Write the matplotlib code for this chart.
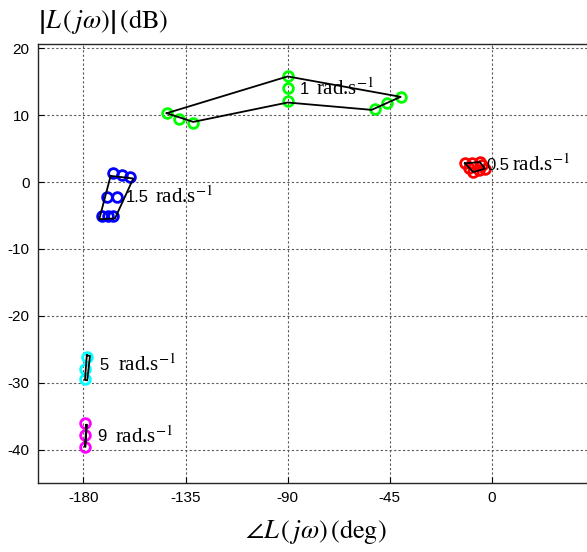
import numpy as np
import matplotlib
matplotlib.use("Agg")
import matplotlib.pyplot as plt

plt.rcParams['mathtext.fontset'] = 'stix'
plt.rcParams['axes.unicode_minus'] = False

# templates at each frequency: sample points (phase deg, gain dB) and outline
w1_phase = [-143.2, -137.9, -131.7, -90, -90, -90, -51.5, -46.4, -40.2]
w1_mag = [10.3, 9.5, 8.8, 15.8, 14.0, 12.2, 11.0, 11.8, 12.7]
w1_box_phase = [-143.3, -90, -40.2, -53.0, -90, -131.6, -143.3]
w1_box_mag = [10.3, 15.8, 12.75, 10.8, 11.9, 9.0, 10.3]

w05_phase = [-11.9, -8.6, -5.3, -4.2, -3.1, -5.6, -8.2, -10.0]
w05_mag = [2.8, 2.9, 3.0, 2.5, 2.0, 1.75, 1.5, 2.1]
w05_box_phase = [-11.9, -5.3, -3.1, -8.2, -11.9]
w05_box_mag = [2.8, 3.0, 2.0, 1.5, 2.8]

w15_phase = [-166.8, -163.2, -159.5, -169.7, -165.2, -171.9, -169.0, -166.8]
w15_mag = [1.3, 1.1, 0.8, -2.2, -2.3, -5.0, -5.1, -5.1]
w15_box_phase = [-168.0, -158.0, -166.1, -173.0, -168.0]
w15_box_mag = [0.93, 0.54, -5.45, -5.55, 0.93]

w5_phase = [-178.5, -179.2, -179.3]
w5_mag = [-26.2, -27.9, -29.5]
w5_box_phase = [-178.5, -177.1, -178.3, -179.3, -178.5]
w5_box_mag = [-25.9, -26.0, -29.65, -29.6, -25.9]

w9_phase = [-179.2, -179.2, -179.3]
w9_mag = [-36.1, -37.8, -39.6]
w9_box_phase = [-178.7, -178.5, -179.1, -179.3, -178.7]
w9_box_mag = [-36.3, -36.3, -39.6, -39.6, -36.3]

# frequency labels: (number, x of number, x of unit, y)
freq_labels = [
    ('1', -84.6, -77.5, 13.9),
    ('0.5', -2.5, 8.8, 2.5),
    ('1.5', -161.2, -148.5, -2.3),
    ('5', -173.0, -164.6, -27.4),
    ('9', -174.1, -166.1, -38.1),
]

xticks = [-180, -135, -90, -45, 0]
yticks = [-40, -30, -20, -10, 0, 10, 20]

fig = plt.figure(figsize=(5.87, 5.52), dpi=100)
ax = fig.add_axes([38/587, 1-483/552, 556/587, 439/552])

mk = dict(marker='o', linestyle='none', markersize=7, markeredgewidth=2,
          markerfacecolor='none')
ax.plot(w1_phase, w1_mag, markeredgecolor=(0, 1, 0), **mk)
ax.plot(w05_phase, w05_mag, markeredgecolor=(1, 0, 0), **mk)
ax.plot(w15_phase, w15_mag, markeredgecolor=(0, 0, 1), **mk)
ax.plot(w5_phase, w5_mag, markeredgecolor=(0, 1, 1), **mk)
ax.plot(w9_phase, w9_mag, markeredgecolor=(1, 0, 1), **mk)

for bx, by in [(w1_box_phase, w1_box_mag), (w05_box_phase, w05_box_mag),
               (w15_box_phase, w15_box_mag), (w5_box_phase, w5_box_mag),
               (w9_box_phase, w9_box_mag)]:
    ax.plot(bx, by, color='k', linewidth=1.3)

for num, xn, xu, y in freq_labels:
    ax.text(xn, y, num, family='Liberation Sans', fontsize=12,
            ha='left', va='center')
    ax.text(xu, y, r'rad.s$^{-1}$', family='Liberation Serif', fontsize=15,
            ha='left', va='center')

ax.set_xlim(-200, 45)
ax.set_ylim(-45, 20.65)
ax.set_xticks(xticks)
ax.set_yticks(yticks)
ax.tick_params(direction='in', length=4, width=0.8, labelsize=11, pad=6)
for lab in ax.get_xticklabels() + ax.get_yticklabels():
    lab.set_family('Liberation Sans')
ax.grid(True, color='0.35', linestyle=(0, (2, 2)), linewidth=0.8)
for s in ax.spines.values():
    s.set_color('0.15')
    s.set_linewidth(1.0)

fig.text(38/587, 1-22/552,
         r'$\left|L\,\left(\,j\omega\right)\right|\,\left(\mathrm{dB}\right)$',
         fontsize=19, ha='left', va='center')
fig.text(316/587, 1-531/552,
         r'$\angle L\,\left(\,j\omega\right)\,\left(\mathrm{deg}\right)$',
         fontsize=19, ha='center', va='center')

fig.savefig('out.png', dpi=100)
